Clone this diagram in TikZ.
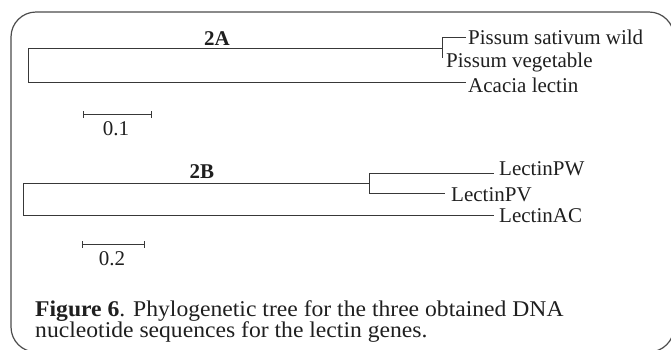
\documentclass[tikz,border=0pt]{standalone}
\usepackage{fontspec}
\setmainfont{Liberation Serif}
\newfontfamily\capfont[FakeStretch=1.05]{Liberation Serif}
\begin{document}
\begin{tikzpicture}[x=1pt,y=-1pt,
  treeline/.style={draw=black!78, line width=1pt},
  frameline/.style={draw=black!70, line width=1.2pt, rounded corners=25pt},
  lab/.style={anchor=base west, inner sep=0pt, font=\fontsize{21}{21}\selectfont, text=black!88},
  cladelab/.style={anchor=base, inner sep=0pt, font=\fontsize{21}{21}\selectfont\bfseries, text=black!88},
  scalelab/.style={anchor=base, inner sep=0pt, font=\fontsize{21}{21}\selectfont, text=black!88},
  caption/.style={anchor=base west, inner sep=0pt, font=\capfont\fontsize{22.5}{21}\selectfont, text=black!88, align=left}]
\useasboundingbox (0,0) rectangle (671,349);
\draw[frameline] (11,12) rectangle (674,352);

% ---- Tree 2A ----
\coordinate (ra) at (28,48);
\coordinate (rb) at (28,82);
\coordinate (na) at (442,48);
\coordinate (nat) at (442,37);
\coordinate (nab) at (442,58);
\node[cladelab] (t2a) at (217,45) {2A};
\node[lab] (psw) at (468,44) {Pissum sativum wild};
\node[lab] (pv) at (446,67) {Pissum vegetable};
\node[lab] (al) at (468,92) {Acacia lectin};
\draw[treeline] (ra) -- (rb);
\draw[treeline] (ra) -- (na);
\draw[treeline] (nat) -- (nab);
\draw[treeline] (nat) -- ([xshift=-2pt]psw.west |- nat);
\draw[treeline] (rb) -- ([xshift=-2pt]al.west |- rb);

% scale bar 0.1
\coordinate (sa1) at (83,114);
\coordinate (sa2) at (151,114);
\draw[treeline] (sa1) -- (sa2);
\draw[treeline] ([yshift=-3.5pt]sa1) -- ([yshift=3.5pt]sa1);
\draw[treeline] ([yshift=-3.5pt]sa2) -- ([yshift=3.5pt]sa2);
\node[scalelab] (sla) at (116,135) {0.1};

% ---- Tree 2B ----
\coordinate (rc) at (23,183);
\coordinate (rd) at (23,215);
\coordinate (nb) at (369,183);
\coordinate (nbt) at (369,173);
\coordinate (nbb) at (369,193);
\node[cladelab] (t2b) at (202,178) {2B};
\node[lab] (lpw) at (499,175) {LectinPW};
\node[lab] (lpv) at (451,201) {LectinPV};
\node[lab] (lac) at (499,222) {LectinAC};
\draw[treeline] (rc) -- (rd);
\draw[treeline] (rc) -- (nb);
\draw[treeline] (nbt) -- (nbb);
\draw[treeline] (nbt) -- ([xshift=-5pt]lpw.west |- nbt);
\draw[treeline] (nbb) -- ([xshift=-6pt]lpv.west |- nbb);
\draw[treeline] (rd) -- ([xshift=-5pt]lac.west |- rd);

% scale bar 0.2
\coordinate (sb1) at (82,244);
\coordinate (sb2) at (144,244);
\draw[treeline] (sb1) -- (sb2);
\draw[treeline] ([yshift=-3.5pt]sb1) -- ([yshift=3.5pt]sb1);
\draw[treeline] ([yshift=-3.5pt]sb2) -- ([yshift=3.5pt]sb2);
\node[scalelab] (slb) at (112,265) {0.2};

% ---- caption ----
\node[caption] (cap1) at (35,316) {\textbf{Figure 6}. Phylogenetic tree for the three obtained DNA};
\node[caption] (cap2) at (35,337) {nucleotide sequences for the lectin genes.};
\end{tikzpicture}
\end{document}
